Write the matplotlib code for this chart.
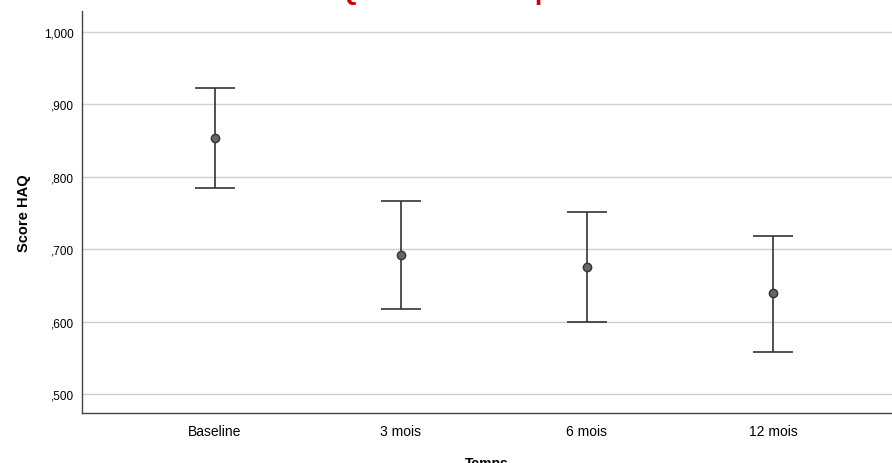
import matplotlib.pyplot as plt
from matplotlib.ticker import FuncFormatter

# mean HAQ score with 95% CI
temps = ['Baseline', '3 mois', '6 mois', '12 mois']
moyenne = [0.853, 0.692, 0.675, 0.640]
ic_haut = [0.923, 0.766, 0.751, 0.718]
ic_bas = [0.784, 0.617, 0.599, 0.558]

plt.rcParams['font.family'] = ['Liberation Sans', 'DejaVu Sans']

fig = plt.figure(figsize=(8.92, 4.64), dpi=100)
ax = fig.add_axes([82 / 892, 50 / 464, 1 - 82 / 892, 402 / 464])

x = list(range(len(temps)))
err_bas = [m - b for m, b in zip(moyenne, ic_bas)]
err_haut = [h - m for m, h in zip(moyenne, ic_haut)]
ax.errorbar(x, moyenne, yerr=[err_bas, err_haut], fmt='o', color='#333333',
            ecolor='#333333', elinewidth=1.2, capsize=14.4, capthick=1.2,
            markersize=6, markerfacecolor='#666666', markeredgecolor='#333333',
            zorder=3)

ax.set_xlim(-0.715, 3.64)
ax.set_ylim(0.4738, 1.029)
ax.set_xticks(x)
ax.set_xticklabels(temps, fontsize=10)
ax.set_yticks([0.5, 0.6, 0.7, 0.8, 0.9, 1.0])
ax.yaxis.set_major_formatter(FuncFormatter(
    lambda v, p: ('%.3f' % v).replace('0.', ',').replace('1.', '1,')))
ax.tick_params(axis='y', length=0, pad=6, labelsize=8.5)
ax.tick_params(axis='x', length=0, pad=8)
ax.yaxis.grid(True, color='#d0d0d0', linewidth=1)
ax.set_axisbelow(True)
for s in ['top', 'right']:
    ax.spines[s].set_visible(False)
for s in ['left', 'bottom']:
    ax.spines[s].set_color('#444444')
    ax.spines[s].set_linewidth(1)

ax.set_ylabel('Score HAQ', fontsize=10.5, fontweight='bold', labelpad=9)
ax.set_xlabel('Temps', fontsize=10, fontweight='bold', labelpad=13)

# title is cut off by the top edge in the reference
fig.text(55 / 892, 1 - 0.3 / 464, "Evolution du score HAQ sur 12 mois après traitement",
         color='#cc0000', fontsize=19, fontweight='bold', ha='left', va='baseline')

fig.savefig('out.png', dpi=100)
